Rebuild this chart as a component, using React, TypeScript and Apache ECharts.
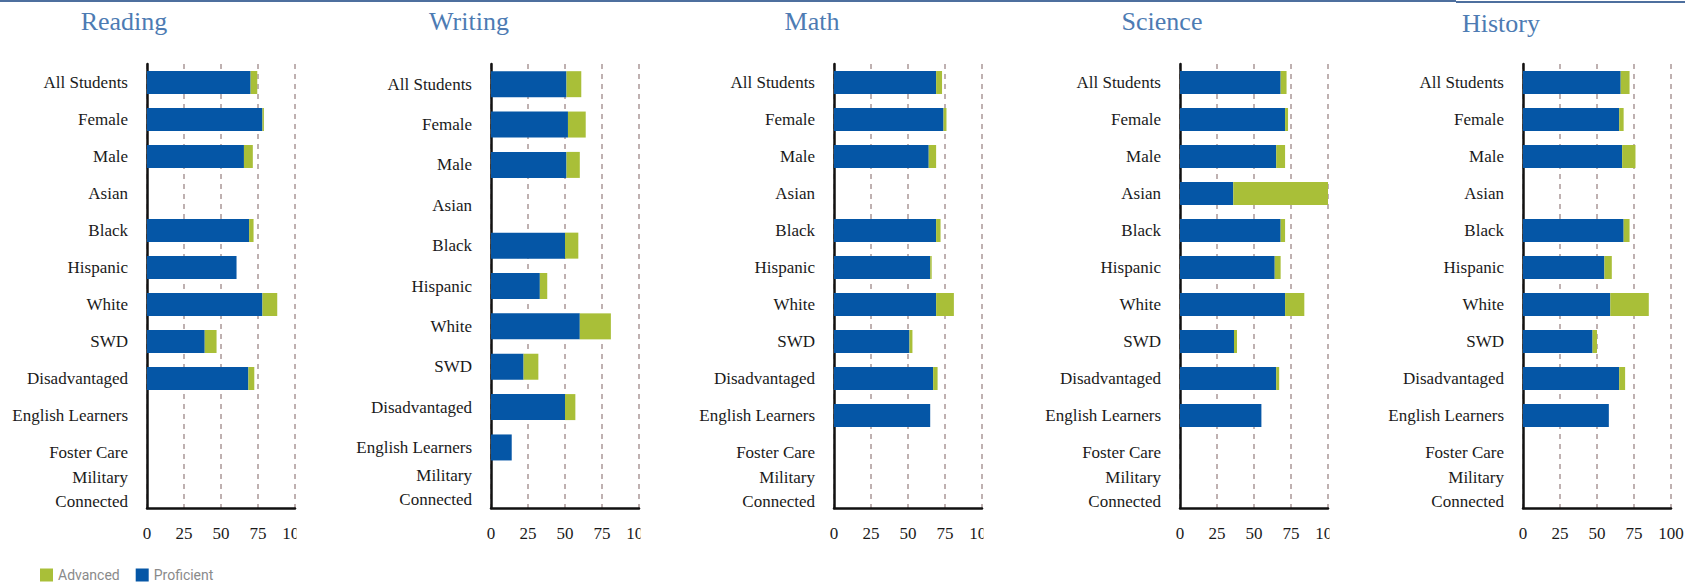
import React, { useEffect, useRef } from "react";
import * as echarts from "echarts";

const subjects = ["Reading", "Writing", "Math", "Science", "History"];
const groups12 = ["All Students", "Female", "Male", "Asian", "Black", "Hispanic", "White", "SWD", "Disadvantaged", "English Learners", "Foster Care", "Military\nConnected"];
const groups11 = ["All Students", "Female", "Male", "Asian", "Black", "Hispanic", "White", "SWD", "Disadvantaged", "English Learners", "Military\nConnected"];
const xTicks = [0, 25, 50, 75, 100];
const legendNames = ["Advanced", "Proficient"];

const readingProficient = [70, 78, 65.5, null, 69, 60.5, 78, 39, 68.5, null, null, null];
const readingAdvanced = [4.5, 1, 6, null, 3, 0, 10, 8, 4, null, null, null];

const writingProficient = [51, 52, 51, null, 50, 33, 60, 22, 50, 14, null];
const writingAdvanced = [10, 12, 9, null, 9, 5, 21, 10, 7, 0, null];

const mathProficient = [69, 74, 64, null, 69, 65, 69, 51, 67, 65, null, null];
const mathAdvanced = [4, 2, 5, null, 3, 1, 12, 2, 3, 0, null, null];

const scienceProficient = [68, 71, 65, 36, 68, 64, 71, 36.5, 65, 55, null, null];
const scienceAdvanced = [4, 2, 6, 64, 3, 4, 13, 2, 2, 0, null, null];

const historyProficient = [66, 65, 67, null, 68, 55, 59, 47, 65, 58, null, null];
const historyAdvanced = [6, 3, 9, null, 4, 5, 26, 3, 4, 0, null, null];

const panelData = [
  { cats: groups12, prof: readingProficient, adv: readingAdvanced },
  { cats: groups11, prof: writingProficient, adv: writingAdvanced },
  { cats: groups12, prof: mathProficient, adv: mathAdvanced },
  { cats: groups12, prof: scienceProficient, adv: scienceAdvanced },
  { cats: groups12, prof: historyProficient, adv: historyAdvanced },
];

// layout (pixels)
const gridLefts = [147, 491, 834, 1180, 1523];
const gridWidth = 148;
const gridTop = 64;
const gridHeight = 444;
const titleCenters = [124, 469, 812, 1162, 1501];
const titleYs = [21, 21, 21, 21, 23];
const barWidths = [23, 26, 23, 23, 23];

const BLUE = "#0556A6";
const GREEN = "#A9BF38";
const SERIF = "'Liberation Serif', 'Times New Roman', serif";

export default function App() {
  const ref = useRef<HTMLDivElement>(null);
  useEffect(() => {
    document.body.style.margin = "0";
    if (!ref.current) return;
    const chart = echarts.init(ref.current, undefined, { renderer: "svg" });

    const grids = gridLefts.map((l) => ({
      left: l,
      top: gridTop,
      width: gridWidth,
      height: gridHeight,
      containLabel: false,
      outerBoundsMode: "none",
    }));

    const xAxes = gridLefts.map((_, i) => ({
      type: "value",
      gridIndex: i,
      min: xTicks[0],
      max: xTicks[xTicks.length - 1],
      interval: xTicks[1] - xTicks[0],
      axisLine: { show: true, lineStyle: { color: "#111", width: 2.5 } },
      axisTick: { show: false },
      axisLabel: { fontFamily: SERIF, fontSize: 17, color: "#1a1a1a", margin: 17 },
      splitLine: { show: true, lineStyle: { type: [5, 5], color: "#ab9898", width: 1.5 } },
    }));

    const yAxes = panelData.map((p, i) => ({
      type: "category",
      gridIndex: i,
      data: p.cats,
      inverse: true,
      axisLine: { show: true, onZero: false, lineStyle: { color: "#111", width: 2.5 } },
      axisTick: { show: false },
      splitLine: { show: false },
      axisLabel: { fontFamily: SERIF, fontSize: 17, color: "#1a1a1a", margin: 19, lineHeight: 24 },
    }));

    const series: any[] = [];
    panelData.forEach((p, i) => {
      series.push({
        name: legendNames[1],
        type: "bar",
        stack: "s" + i,
        xAxisIndex: i,
        yAxisIndex: i,
        barWidth: barWidths[i],
        itemStyle: { color: BLUE },
        data: p.prof,
      });
      series.push({
        name: legendNames[0],
        type: "bar",
        stack: "s" + i,
        xAxisIndex: i,
        yAxisIndex: i,
        barWidth: barWidths[i],
        itemStyle: { color: GREEN },
        data: p.adv,
      });
    });

    const graphics: any[] = [];
    // top border lines
    graphics.push({ type: "rect", shape: { x: 0, y: 0, width: 1456, height: 2 }, style: { fill: "#4d6f9e" }, z: 100 });
    graphics.push({ type: "rect", shape: { x: 1456, y: 1, width: 229, height: 2 }, style: { fill: "#4d6f9e" }, z: 100 });
    subjects.forEach((s, i) => {
      graphics.push({
        type: "text",
        x: titleCenters[i],
        y: titleYs[i],
        style: {
          text: s,
          textAlign: "center",
          textVerticalAlign: "middle",
          font: `26px ${SERIF}`,
          fill: "#4d7bb3",
        },
        z: 100,
      });
    });
    // crop the right part of the "100" labels like the screenshot crops
    for (let i = 0; i < 4; i++) {
      graphics.push({
        type: "rect",
        shape: { x: gridLefts[i] + gridWidth + 1.5, y: 520, width: 16, height: 28 },
        style: { fill: "#ffffff" },
        z: 100,
      });
    }

    chart.setOption({
      animation: false,
      backgroundColor: "#ffffff",
      grid: grids,
      xAxis: xAxes,
      yAxis: yAxes,
      series,
      legend: {
        data: legendNames,
        left: 38,
        top: 566,
        padding: 2,
        itemWidth: 13,
        itemHeight: 13,
        itemGap: 16,
        icon: "rect",
        textStyle: { color: "#8a8a8a", fontSize: 14, fontFamily: "Roboto, sans-serif" },
      },
      graphic: graphics,
    });
    return () => chart.dispose();
  }, []);
  return <div ref={ref} style={{ width: 1685, height: 587 }} />;
}
